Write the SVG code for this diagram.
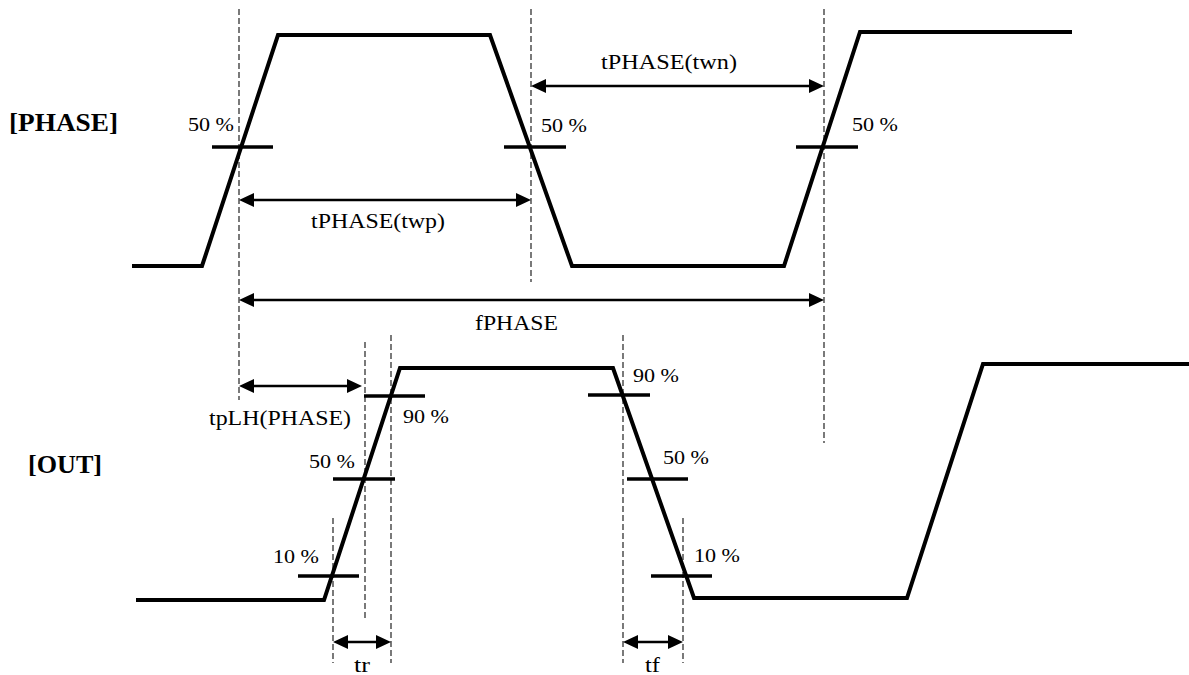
<svg xmlns="http://www.w3.org/2000/svg" width="1189" height="675" viewBox="0 0 1189 675">
<style>
.wave{fill:none;stroke:#000;stroke-width:4;stroke-linejoin:miter}
.tick{stroke:#000;stroke-width:3.5}
.dash{stroke:#222;stroke-width:1.2;stroke-dasharray:6 3}
.arr{stroke:#000;stroke-width:2.6;marker-start:url(#ah);marker-end:url(#ah)}
text{font-family:"Liberation Serif","Times New Roman",serif;fill:#000}
.pct{font-size:19px}
.lbl{font-size:20px}
.sig{font-size:25px;font-weight:bold}
</style>
<defs>
<marker id="ah" markerUnits="userSpaceOnUse" markerWidth="16" markerHeight="15" refX="5" refY="7" orient="auto-start-reverse">
<path d="M0,0 L15,7 L0,14 z" fill="#000"/>
</marker>
</defs>
<rect width="1189" height="675" fill="#fff"/>

<g id="phase-label"><text class="sig" x="9" y="131" textLength="109" lengthAdjust="spacingAndGlyphs">[PHASE]</text></g>
<g id="out-label"><text class="sig" x="28" y="473" textLength="74" lengthAdjust="spacingAndGlyphs">[OUT]</text></g>

<g id="guides">
<line class="dash" x1="239" y1="9" x2="239" y2="400"/>
<line class="dash" x1="531" y1="9" x2="531" y2="282"/>
<line class="dash" x1="824" y1="9" x2="824" y2="443"/>
<line class="dash" x1="365" y1="342" x2="365" y2="618"/>
<line class="dash" x1="391" y1="335" x2="391" y2="663"/>
<line class="dash" x1="333" y1="518" x2="333" y2="663"/>
<line class="dash" x1="623" y1="335" x2="623" y2="663"/>
<line class="dash" x1="683" y1="518" x2="683" y2="663"/>
</g>

<g id="phase-wave">
<polyline class="wave" points="132,266 202,266 278,35 490,35 572,266 784,266 860,32 1072,32"/>
<line class="tick" x1="212" y1="147" x2="273" y2="147"/>
<line class="tick" x1="504" y1="147" x2="566" y2="147"/>
<line class="tick" x1="796" y1="147" x2="858" y2="147"/>
<text class="pct" x="188" y="131" textLength="46" lengthAdjust="spacingAndGlyphs">50 %</text>
<text class="pct" x="541" y="132" textLength="46" lengthAdjust="spacingAndGlyphs">50 %</text>
<text class="pct" x="852" y="131" textLength="46" lengthAdjust="spacingAndGlyphs">50 %</text>
</g>

<g id="out-wave">
<polyline class="wave" points="136,600 324,600 400,368 613,368 694,598 907,598 983,364 1189,364"/>
<line class="tick" x1="364" y1="396" x2="425" y2="396"/>
<line class="tick" x1="333" y1="479" x2="395" y2="479"/>
<line class="tick" x1="298" y1="576" x2="359" y2="576"/>
<line class="tick" x1="588" y1="395" x2="650" y2="395"/>
<line class="tick" x1="627" y1="479" x2="688" y2="479"/>
<line class="tick" x1="651" y1="576" x2="712" y2="576"/>
<text class="pct" x="403" y="423" textLength="46" lengthAdjust="spacingAndGlyphs">90 %</text>
<text class="pct" x="309" y="468" textLength="46" lengthAdjust="spacingAndGlyphs">50 %</text>
<text class="pct" x="273" y="563" textLength="46" lengthAdjust="spacingAndGlyphs">10 %</text>
<text class="pct" x="633" y="382" textLength="46" lengthAdjust="spacingAndGlyphs">90 %</text>
<text class="pct" x="663" y="464" textLength="46" lengthAdjust="spacingAndGlyphs">50 %</text>
<text class="pct" x="694" y="562" textLength="46" lengthAdjust="spacingAndGlyphs">10 %</text>
</g>

<g id="connectors">
<line class="arr" x1="249" y1="200" x2="521" y2="200"/>
<line class="arr" x1="541" y1="86" x2="814" y2="86"/>
<line class="arr" x1="249" y1="300" x2="814" y2="300"/>
<line class="arr" x1="249" y1="386" x2="352" y2="386"/>
<line class="arr" x1="343" y1="642" x2="381" y2="642"/>
<line class="arr" x1="633" y1="642" x2="673" y2="642"/>
</g>

<g id="timing-labels">
<text class="lbl" x="311" y="228" textLength="134" lengthAdjust="spacingAndGlyphs">tPHASE(twp)</text>
<text class="lbl" x="601" y="69" textLength="136" lengthAdjust="spacingAndGlyphs">tPHASE(twn)</text>
<text class="lbl" x="475" y="330" textLength="83" lengthAdjust="spacingAndGlyphs">fPHASE</text>
<text class="lbl" x="209" y="425" textLength="142" lengthAdjust="spacingAndGlyphs">tpLH(PHASE)</text>
<text class="lbl" x="354" y="672" textLength="16" lengthAdjust="spacingAndGlyphs">tr</text>
<text class="lbl" x="645" y="672" textLength="15" lengthAdjust="spacingAndGlyphs">tf</text>
</g>
</svg>
